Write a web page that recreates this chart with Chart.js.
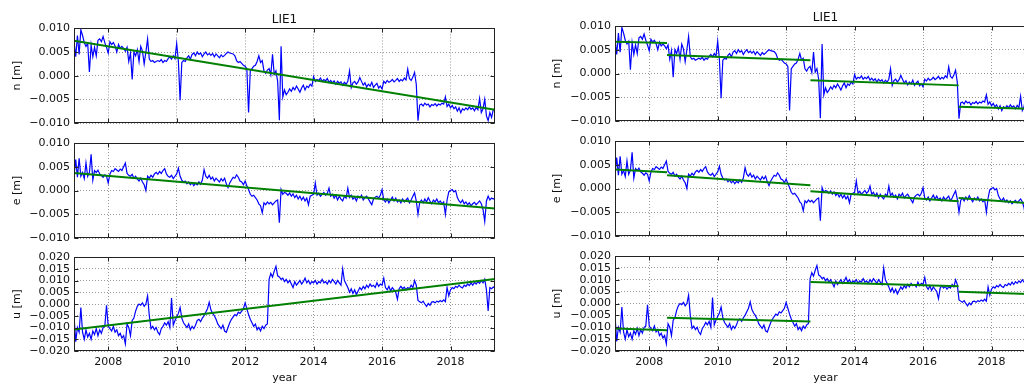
<!DOCTYPE html>
<html>
<head>
<meta charset="utf-8">
<script src="https://cdn.jsdelivr.net/npm/chart.js@4.4.1/dist/chart.umd.min.js"></script>
<style>
  html, body { margin: 0; padding: 0; background: #fff; overflow: hidden; }
  body { width: 1024px; height: 385px; position: relative; }
  canvas { position: absolute; }
</style>
</head>
<body>
<canvas id="ln"></canvas>
<canvas id="le"></canvas>
<canvas id="lu"></canvas>
<canvas id="rn"></canvas>
<canvas id="re"></canvas>
<canvas id="ru"></canvas>
<script>
// sampling epochs (decimal years)
const years = [
  2007.00,2007.05,2007.10,2007.15,2007.20,2007.25,2007.30,2007.35,2007.40,2007.45,2007.50,2007.55,2007.60,2007.65,2007.70,2007.75,2007.80,2007.85,2007.90,2007.95,
  2008.00,2008.05,2008.10,2008.15,2008.20,2008.25,2008.30,2008.35,2008.40,2008.45,2008.50,2008.55,2008.60,2008.65,2008.70,2008.75,2008.80,2008.85,2008.90,2008.95,
  2009.00,2009.05,2009.10,2009.15,2009.20,2009.25,2009.30,2009.35,2009.40,2009.45,2009.50,2009.55,2009.60,2009.65,2009.70,2009.75,2009.80,2009.85,2009.90,2009.95,
  2010.00,2010.05,2010.10,2010.15,2010.20,2010.25,2010.30,2010.35,2010.40,2010.45,2010.50,2010.55,2010.60,2010.65,2010.70,2010.75,2010.80,2010.85,2010.90,2010.95,
  2011.00,2011.05,2011.10,2011.15,2011.20,2011.25,2011.30,2011.35,2011.40,2011.45,2011.50,2011.55,2011.60,2011.65,2011.70,2011.75,2011.80,2011.85,2011.90,2011.95,
  2012.00,2012.05,2012.10,2012.15,2012.20,2012.25,2012.30,2012.35,2012.40,2012.45,2012.50,2012.55,2012.60,2012.65,2012.70,2012.75,2012.80,2012.85,2012.90,2012.95,
  2013.00,2013.05,2013.10,2013.15,2013.20,2013.25,2013.30,2013.35,2013.40,2013.45,2013.50,2013.55,2013.60,2013.65,2013.70,2013.75,2013.80,2013.85,2013.90,2013.95,
  2014.00,2014.05,2014.10,2014.15,2014.20,2014.25,2014.30,2014.35,2014.40,2014.45,2014.50,2014.55,2014.60,2014.65,2014.70,2014.75,2014.80,2014.85,2014.90,2014.95,
  2015.00,2015.05,2015.10,2015.15,2015.20,2015.25,2015.30,2015.35,2015.40,2015.45,2015.50,2015.55,2015.60,2015.65,2015.70,2015.75,2015.80,2015.85,2015.90,2015.95,
  2016.00,2016.05,2016.10,2016.15,2016.20,2016.25,2016.30,2016.35,2016.40,2016.45,2016.50,2016.55,2016.60,2016.65,2016.70,2016.75,2016.80,2016.85,2016.90,2016.95,
  2017.00,2017.05,2017.10,2017.15,2017.20,2017.25,2017.30,2017.35,2017.40,2017.45,2017.50,2017.55,2017.60,2017.65,2017.70,2017.75,2017.80,2017.85,2017.90,2017.95,
  2018.00,2018.05,2018.10,2018.15,2018.20,2018.25,2018.30,2018.35,2018.40,2018.45,2018.50,2018.55,2018.60,2018.65,2018.70,2018.75,2018.80,2018.85,2018.90,2018.95,
  2019.00,2019.05,2019.10,2019.15,2019.20,2019.25,2019.30
];

// north component [m]
const nVals = [
  0.0072,0.0040,0.0085,0.0045,0.0097,0.0085,0.0070,0.0062,0.0068,0.0008,0.0065,0.0040,0.0060,0.0042,0.0075,0.0078,0.0072,0.0083,0.0070,0.0060,
  0.0048,0.0072,0.0066,0.0070,0.0063,0.0050,0.0066,0.0058,0.0062,0.0058,0.0052,0.0060,0.0030,0.0048,-0.0008,0.0050,0.0042,0.0055,0.0030,0.0062,
  0.0052,0.0025,0.0050,0.0078,0.0035,0.0030,0.0032,0.0028,0.0030,0.0032,0.0030,0.0034,0.0028,0.0032,0.0030,0.0036,0.0040,0.0035,0.0042,0.0036,
  0.0068,0.0030,-0.0052,0.0028,0.0032,0.0030,0.0038,0.0042,0.0035,0.0045,0.0048,0.0042,0.0050,0.0045,0.0048,0.0040,0.0046,0.0050,0.0044,0.0047,
  0.0043,0.0047,0.0040,0.0046,0.0042,0.0038,0.0044,0.0040,0.0043,0.0047,0.0050,0.0048,0.0047,0.0046,0.0042,0.0032,0.0028,0.0030,0.0026,0.0022,
  0.0020,0.0015,-0.0078,0.0010,0.0015,0.0020,0.0022,0.0030,0.0042,0.0028,0.0032,0.0010,0.0005,0.0012,0.0015,0.0002,0.0045,0.0003,0.0010,-0.0012,
  -0.0094,0.0062,-0.0045,-0.0030,-0.0040,-0.0035,-0.0028,-0.0033,-0.0025,-0.0030,-0.0022,-0.0028,-0.0035,-0.0026,-0.0020,-0.0030,-0.0022,-0.0025,-0.0018,-0.0022,
  -0.0002,-0.0012,-0.0008,-0.0010,-0.0005,-0.0012,-0.0008,-0.0011,-0.0006,-0.0014,-0.0010,-0.0015,-0.0011,-0.0018,-0.0012,-0.0016,-0.0013,-0.0020,-0.0014,-0.0018,
  -0.0012,0.0010,-0.0025,-0.0015,-0.0012,-0.0018,-0.0013,-0.0004,-0.0012,-0.0020,-0.0015,-0.0024,-0.0018,-0.0022,-0.0014,-0.0025,-0.0020,-0.0016,-0.0026,-0.0022,
  -0.0028,-0.0012,-0.0016,-0.0010,-0.0014,-0.0012,-0.0008,-0.0013,-0.0010,-0.0006,-0.0012,-0.0008,-0.0011,-0.0005,-0.0009,0.0014,-0.0006,-0.0010,-0.0003,0.0007,
  -0.0018,-0.0095,-0.0062,-0.0060,-0.0064,-0.0058,-0.0062,-0.0060,-0.0066,-0.0061,-0.0063,-0.0059,-0.0064,-0.0060,-0.0062,-0.0058,-0.0060,-0.0045,-0.0065,-0.0060,
  -0.0068,-0.0063,-0.0070,-0.0066,-0.0075,-0.0068,-0.0078,-0.0070,-0.0073,-0.0068,-0.0072,-0.0066,-0.0071,-0.0068,-0.0074,-0.0067,-0.0072,-0.0048,-0.0078,-0.0070,
  -0.0050,-0.0085,-0.0095,-0.0078,-0.0088,-0.0072,-0.0070
];

// east component [m]
const eVals = [
  0.0030,0.0065,0.0028,0.0068,0.0030,0.0038,0.0025,0.0058,0.0030,0.0038,0.0076,0.0022,0.0042,0.0038,0.0043,0.0035,0.0032,0.0028,0.0033,0.0030,
  0.0016,0.0035,0.0042,0.0040,0.0046,0.0043,0.0040,0.0045,0.0042,0.0050,0.0058,0.0036,0.0032,0.0030,0.0034,0.0026,0.0030,0.0024,0.0020,0.0026,
  0.0018,0.0012,0.0000,0.0030,0.0026,0.0032,0.0028,0.0035,0.0038,0.0034,0.0040,0.0036,0.0042,0.0046,0.0035,0.0030,0.0028,0.0032,0.0025,0.0030,
  0.0035,0.0047,0.0030,0.0022,0.0018,0.0020,0.0014,0.0018,0.0012,0.0016,0.0010,0.0015,0.0012,0.0018,0.0013,0.0022,0.0044,0.0030,0.0026,0.0032,
  0.0024,0.0028,0.0020,0.0026,0.0022,0.0018,0.0025,0.0020,0.0026,0.0014,0.0006,0.0016,0.0022,0.0028,0.0026,0.0033,0.0028,0.0020,0.0018,0.0012,
  0.0020,0.0010,0.0002,-0.0008,-0.0012,-0.0010,-0.0015,-0.0020,-0.0028,-0.0032,-0.0047,-0.0026,-0.0030,-0.0024,-0.0028,-0.0025,-0.0030,-0.0026,-0.0022,-0.0020,
  -0.0068,0.0002,-0.0008,-0.0004,-0.0006,-0.0010,-0.0005,-0.0012,-0.0007,-0.0015,-0.0010,-0.0018,-0.0012,-0.0020,-0.0014,-0.0022,-0.0016,-0.0030,-0.0012,-0.0010,
  -0.0008,0.0016,-0.0010,-0.0006,-0.0012,-0.0008,-0.0004,-0.0010,-0.0006,0.0005,-0.0012,-0.0008,-0.0016,-0.0010,-0.0020,-0.0012,-0.0018,-0.0022,-0.0012,-0.0016,
  0.0005,-0.0015,-0.0010,-0.0018,-0.0014,-0.0022,-0.0012,-0.0016,-0.0010,-0.0020,-0.0015,-0.0012,-0.0018,-0.0024,-0.0030,-0.0018,-0.0014,-0.0012,-0.0016,-0.0010,
  0.0002,-0.0020,-0.0024,-0.0018,-0.0026,-0.0020,-0.0014,-0.0022,-0.0016,-0.0024,-0.0020,-0.0026,-0.0018,-0.0024,-0.0020,-0.0016,-0.0026,-0.0020,-0.0012,-0.0005,
  -0.0022,-0.0050,-0.0025,-0.0020,-0.0026,-0.0018,-0.0024,-0.0015,-0.0022,-0.0028,-0.0020,-0.0024,-0.0018,-0.0026,-0.0022,-0.0028,-0.0024,-0.0050,-0.0020,-0.0003,
  0.0000,0.0002,-0.0003,0.0000,-0.0015,-0.0022,-0.0026,-0.0020,-0.0028,-0.0024,-0.0030,-0.0026,-0.0032,-0.0028,-0.0025,-0.0030,-0.0026,-0.0022,-0.0028,-0.0040,
  -0.0065,-0.0022,-0.0012,-0.0020,-0.0016,-0.0018,-0.0016
];

// up component [m]
const uVals = [
  -0.0050,-0.0160,-0.0100,-0.0120,-0.0015,-0.0120,-0.0150,-0.0110,-0.0140,-0.0125,-0.0150,-0.0115,-0.0130,-0.0105,-0.0135,-0.0110,-0.0125,-0.0100,-0.0095,-0.0005,
  -0.0095,-0.0105,-0.0115,-0.0095,-0.0120,-0.0110,-0.0135,-0.0125,-0.0145,-0.0135,-0.0170,-0.0085,-0.0100,-0.0135,-0.0070,-0.0060,-0.0030,-0.0010,0.0000,-0.0005,
  0.0005,-0.0010,0.0000,0.0035,-0.0050,-0.0105,-0.0095,-0.0110,-0.0100,-0.0120,-0.0130,-0.0105,-0.0095,-0.0080,-0.0090,-0.0075,-0.0100,0.0025,-0.0090,-0.0070,
  -0.0055,-0.0040,-0.0015,-0.0060,-0.0080,-0.0090,-0.0100,-0.0085,-0.0110,-0.0095,-0.0105,-0.0090,-0.0070,-0.0065,-0.0075,-0.0060,-0.0050,-0.0035,-0.0020,0.0007,
  -0.0025,-0.0040,-0.0050,-0.0065,-0.0085,-0.0095,-0.0105,-0.0090,-0.0115,-0.0120,-0.0100,-0.0080,-0.0065,-0.0055,-0.0045,-0.0050,-0.0035,-0.0040,-0.0030,-0.0020,
  0.0005,-0.0020,-0.0045,-0.0065,-0.0080,-0.0095,-0.0085,-0.0110,-0.0100,-0.0115,-0.0095,-0.0105,-0.0090,-0.0085,0.0105,0.0130,0.0115,0.0140,0.0160,0.0120,
  0.0115,0.0105,0.0110,0.0095,0.0105,0.0090,0.0100,0.0085,0.0070,0.0095,0.0080,0.0090,0.0100,0.0085,0.0095,0.0110,0.0090,0.0100,0.0085,0.0095,
  0.0090,0.0100,0.0085,0.0095,0.0090,0.0105,0.0090,0.0095,0.0085,0.0100,0.0090,0.0105,0.0095,0.0085,0.0100,0.0090,0.0080,0.0150,0.0100,0.0085,
  0.0070,0.0050,0.0065,0.0045,0.0060,0.0040,0.0055,0.0070,0.0060,0.0075,0.0065,0.0080,0.0070,0.0085,0.0075,0.0080,0.0070,0.0090,0.0075,0.0085,
  0.0080,0.0110,0.0070,0.0060,0.0075,0.0055,0.0070,0.0060,0.0050,0.0020,0.0065,0.0075,0.0065,0.0072,0.0060,0.0070,0.0065,0.0080,0.0070,0.0100,
  0.0080,0.0015,0.0010,0.0005,0.0012,0.0000,-0.0010,0.0002,-0.0005,0.0008,0.0010,0.0005,0.0012,0.0008,0.0015,0.0010,0.0018,0.0010,0.0070,0.0035,
  0.0060,0.0070,0.0065,0.0075,0.0070,0.0080,0.0072,0.0068,0.0080,0.0075,0.0085,0.0078,0.0090,0.0080,0.0092,0.0085,0.0095,0.0088,0.0100,0.0090,
  0.0105,0.0060,-0.0030,0.0070,0.0065,0.0072,0.0068
];

// left column: single linear trend
const trendYears = [2007.0, 2019.3];
const nTrend = [0.0074, -0.0072];
const eTrend = [0.0037, -0.0038];
const uTrend = [-0.0109, 0.0106];

// right column: trend with offsets
const segFromYears = [2007.0, 2008.52, 2012.71, 2017.04];
const segToYears = [2008.52, 2012.71, 2017.04, 2019.3];
const nSegFrom = [0.0067, 0.0039, -0.0014, -0.0070];
const nSegTo = [0.0064, 0.0028, -0.0025, -0.0075];
const eSegFrom = [0.0040, 0.0028, -0.0006, -0.0020];
const eSegTo = [0.0034, 0.0007, -0.0027, -0.0032];
const uSegFrom = [-0.0105, -0.0060, 0.0091, 0.0049];
const uSegTo = [-0.0113, -0.0076, 0.0073, 0.0039];

const yearTicks = [2008, 2010, 2012, 2014, 2016, 2018];
const neTicks = [-0.010, -0.005, 0.000, 0.005, 0.010];
const uTicks = [-0.020, -0.015, -0.010, -0.005, 0.000, 0.005, 0.010, 0.015, 0.020];
const stationName = 'LIE1';

Chart.defaults.font.family = "'DejaVu Sans', sans-serif";
Chart.defaults.font.size = 11;
Chart.defaults.color = '#111';

const blueStyle = { borderColor: '#0000ff', borderWidth: 1.2, pointRadius: 0, tension: 0, order: 2 };
const greenStyle = { borderColor: '#008000', borderWidth: 2, pointRadius: 0, tension: 0, order: 1 };

function fmt(v){
  return v.toFixed(3).replace('-', '\u2212');
}

function series(vals){
  return [{ data: years.map((t, i) => ({ x: t, y: vals[i] })), ...blueStyle }];
}

function trendSet(vals){
  return [{ data: trendYears.map((t, i) => ({ x: t, y: vals[i] })), ...greenStyle }];
}

function stepSets(from, to){
  return segFromYears.map((t0, i) => ({
    data: [{ x: t0, y: from[i] }, { x: segToYears[i], y: to[i] }],
    ...greenStyle
  }));
}

// box + inward ticks like the old matplotlib style
const framePlugin = {
  id: 'frame',
  afterDatasetsDraw(chart){
    const { ctx, chartArea: a, scales } = chart;
    const L = Math.round(a.left) + 0.5, R = Math.round(a.right) - 0.5;
    const T = Math.round(a.top) + 0.5, B = Math.round(a.bottom) - 0.5;
    ctx.save();
    ctx.strokeStyle = '#222';
    ctx.lineWidth = 1;
    ctx.beginPath();
    scales.x.ticks.forEach(t => {
      const px = Math.round(scales.x.getPixelForValue(t.value)) + 0.5;
      ctx.moveTo(px, B); ctx.lineTo(px, B - 4);
      ctx.moveTo(px, T); ctx.lineTo(px, T + 4);
    });
    scales.y.ticks.forEach(t => {
      const py = Math.round(scales.y.getPixelForValue(t.value)) + 0.5;
      ctx.moveTo(L, py); ctx.lineTo(L + 4, py);
      ctx.moveTo(R, py); ctx.lineTo(R - 4, py);
    });
    ctx.stroke();
    ctx.strokeRect(L, T, R - L, B - T);
    ctx.restore();
  }
};

function makePanel(id, p){
  const cv = document.getElementById(id);
  cv.width = p.w; cv.height = p.h;
  cv.style.left = p.left + 'px';
  cv.style.top = p.top + 'px';
  return new Chart(cv, {
    type: 'line',
    data: { datasets: p.datasets },
    options: {
      responsive: false,
      animation: false,
      events: [],
      layout: { padding: p.pad },
      plugins: {
        legend: { display: false },
        tooltip: { enabled: false },
        title: {
          display: !!p.title, text: p.title, fullSize: false,
          color: '#111', font: { size: 12, weight: 'normal' },
          padding: { top: 0, bottom: 1 }
        }
      },
      scales: {
        x: {
          type: 'linear', min: 2007.0, max: 2019.3,
          afterBuildTicks: s => { s.ticks = yearTicks.map(v => ({ value: v })); },
          afterFit: s => { s.height = p.xH; },
          grid: { color: 'rgba(0,0,0,0.4)', lineWidth: 1, drawTicks: false },
          border: { display: false, dash: [1, 2] },
          ticks: { display: !!p.bottom, padding: 5, maxRotation: 0, autoSkip: false, callback: v => String(v) },
          title: { display: !!p.bottom, text: 'year', padding: { top: 0, bottom: 0 } }
        },
        y: {
          min: p.yTicks[0], max: p.yTicks[p.yTicks.length - 1],
          afterBuildTicks: s => { s.ticks = p.yTicks.map(v => ({ value: v })); },
          afterFit: s => { s.width = p.yW; },
          grid: { color: 'rgba(0,0,0,0.4)', lineWidth: 1, drawTicks: false },
          border: { display: false, dash: [1, 2] },
          ticks: { padding: 4, autoSkip: false, callback: v => fmt(v) },
          title: { display: true, text: p.yLabel, padding: { top: 10.4, bottom: 0 } }
        }
      }
    },
    plugins: [framePlugin]
  });
}

// left column: plot boxes n 28-123, e 143-238, u 257-351
makePanel('ln', { left: 0, top: 0, w: 500, h: 135, yW: 74, xH: 0, pad: { top: 13, bottom: 12, right: 5, left: 0 },
  title: stationName, yLabel: 'n [m]', yTicks: neTicks, datasets: [...trendSet(nTrend), ...series(nVals)] });
makePanel('le', { left: 0, top: 131, w: 500, h: 119, yW: 74, xH: 0, pad: { top: 12, bottom: 12, right: 5, left: 0 },
  yLabel: 'e [m]', yTicks: neTicks, datasets: [...trendSet(eTrend), ...series(eVals)] });
makePanel('lu', { left: 0, top: 245, w: 500, h: 140, yW: 74, xH: 34, bottom: true, pad: { top: 12, bottom: 0, right: 5, left: 0 },
  yLabel: 'u [m]', yTicks: uTicks, datasets: [...trendSet(uTrend), ...series(uVals)] });

// right column (runs past the page edge): n 26-121, e 141-236, u 256-351
makePanel('rn', { left: 540, top: 0, w: 500, h: 133, yW: 75, xH: 0, pad: { top: 10.6, bottom: 12, right: 4, left: 0 },
  title: stationName, yLabel: 'n [m]', yTicks: neTicks, datasets: [...stepSets(nSegFrom, nSegTo), ...series(nVals)] });
makePanel('re', { left: 540, top: 129, w: 500, h: 119, yW: 75, xH: 0, pad: { top: 12, bottom: 12, right: 4, left: 0 },
  yLabel: 'e [m]', yTicks: neTicks, datasets: [...stepSets(eSegFrom, eSegTo), ...series(eVals)] });
makePanel('ru', { left: 540, top: 244, w: 500, h: 141, yW: 75, xH: 34, bottom: true, pad: { top: 12, bottom: 0, right: 4, left: 0 },
  yLabel: 'u [m]', yTicks: uTicks, datasets: [...stepSets(uSegFrom, uSegTo), ...series(uVals)] });
</script>
</body>
</html>
